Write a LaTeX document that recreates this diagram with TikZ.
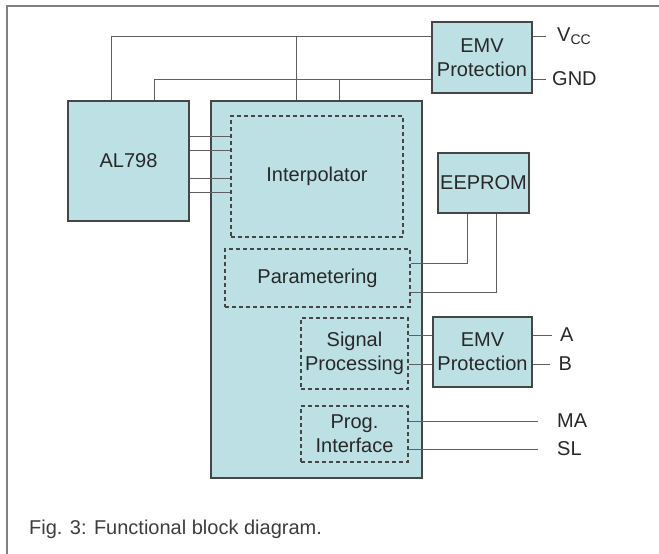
\documentclass[tikz,border=0pt]{standalone}
\usepackage{fontspec}
\setmainfont{Liberation Sans}
\usetikzlibrary{positioning}
\definecolor{boxfill}{RGB}{188,224,228}
\definecolor{edgecol}{RGB}{70,70,70}
\definecolor{wirecol}{RGB}{95,95,95}
\definecolor{txtcol}{RGB}{40,40,40}
\tikzset{
  block/.style={draw=edgecol, line width=1.2pt, fill=boxfill, inner sep=0pt, align=center, text=txtcol},
  dashbox/.style={draw=edgecol, line width=1.1pt, dash pattern=on 4pt off 3pt, inner sep=0pt, align=center, text=txtcol},
  wire/.style={draw=wirecol, line width=1pt},
  sig/.style={anchor=west, inner ysep=0pt, text=txtcol}
}

\begin{document}
\begin{tikzpicture}[x=1pt, y=-1pt, font=\fontsize{20}{24}\selectfont]
    \useasboundingbox (0,0) rectangle (659,554);
    % frame
    \draw[draw=gray, line width=1.2pt] (7,554) -- (7,6) -- (659,6);

    % blocks
    \node[block, minimum width=121pt, minimum height=120pt] (al) at (128.5,161) {AL798};
    \node[block, minimum width=211pt, minimum height=377pt] (main) at (316.5,289.5) {};
    \node[block, minimum width=100pt, minimum height=71pt] (emv1) at (482,57.5) {EMV\\Protection};
    \node[block, minimum width=91pt, minimum height=60pt] (eeprom) at (483.5,183) {EEPROM};
    \node[block, minimum width=99pt, minimum height=70pt] (emv2) at (482.5,352) {EMV\\Protection};

    % function blocks inside
    \node[dashbox, minimum width=172pt, minimum height=121pt] (interp) at (317,176.5) {Interpolator};
    \node[dashbox, minimum width=185pt, minimum height=58pt] (param) at (317.5,278) {Parametering};
    \node[dashbox, minimum width=107pt, minimum height=71pt] (signal) at (354.5,353.5) {Signal\\Processing};
    \node[dashbox, minimum width=107pt, minimum height=56pt] (prog) at (354.5,434) {Prog.\\Interface};

    % pin labels
    \node[sig, inner xsep=11pt] (vcc) at (546,36) {V\textsubscript{CC}};
    \node[sig, inner xsep=6pt] (gnd) at (546,79) {GND};
    \node[sig, inner xsep=8pt] (a) at (552,335) {A};
    \node[sig, inner xsep=8.5pt] (b) at (550,364) {B};
    \node[sig, inner xsep=19pt] (ma) at (538,421) {MA};
    \node[sig, inner xsep=19pt] (sl) at (538,449) {SL};

    % supply
    \coordinate (vccbus) at (111,36);
    \coordinate (gndbus) at (154,79);
    \coordinate (vcctap) at (296,36);
    \coordinate (gndtap) at (339,79);
    \draw[wire] (al.north -| vccbus) |- (emv1.west |- vccbus);
    \draw[wire] (al.north -| gndbus) |- (emv1.west |- gndbus);
    \draw[wire] (vcctap) -- (vcctap |- main.north);
    \draw[wire] (gndtap) -- (gndtap |- main.north);
    \draw[wire] (emv1.east |- vcc) -- (vcc.west);
    \draw[wire] (emv1.east |- gnd) -- (gnd.west);

    % AL798 to interpolator
    \foreach \y in {136,150,178,192} {
        \draw[wire] (al.east |- 0,\y) -- (interp.west |- 0,\y);
    }

    % EEPROM
    \coordinate (ee1) at (467,263);
    \coordinate (ee2) at (496,292);
    \draw[wire] (eeprom.south -| ee1) |- (param.east |- ee1);
    \draw[wire] (eeprom.south -| ee2) |- (param.east |- ee2);

    % bus lines
    \foreach \y in {335,364} {
        \draw[wire] (signal.east |- 0,\y) -- (emv2.west |- 0,\y);
    }
    \draw[wire] (emv2.east |- a) -- (a.west);
    \draw[wire] (emv2.east |- b) -- (b.west);
    \draw[wire] (prog.east |- ma) -- (ma.west);
    \draw[wire] (prog.east |- sl) -- (sl.west);

    \node[anchor=base west, inner sep=0pt, text=txtcol!90!white] (caption) at (29,534) {Fig. 3: Functional block diagram.};
\end{tikzpicture}
\end{document}
